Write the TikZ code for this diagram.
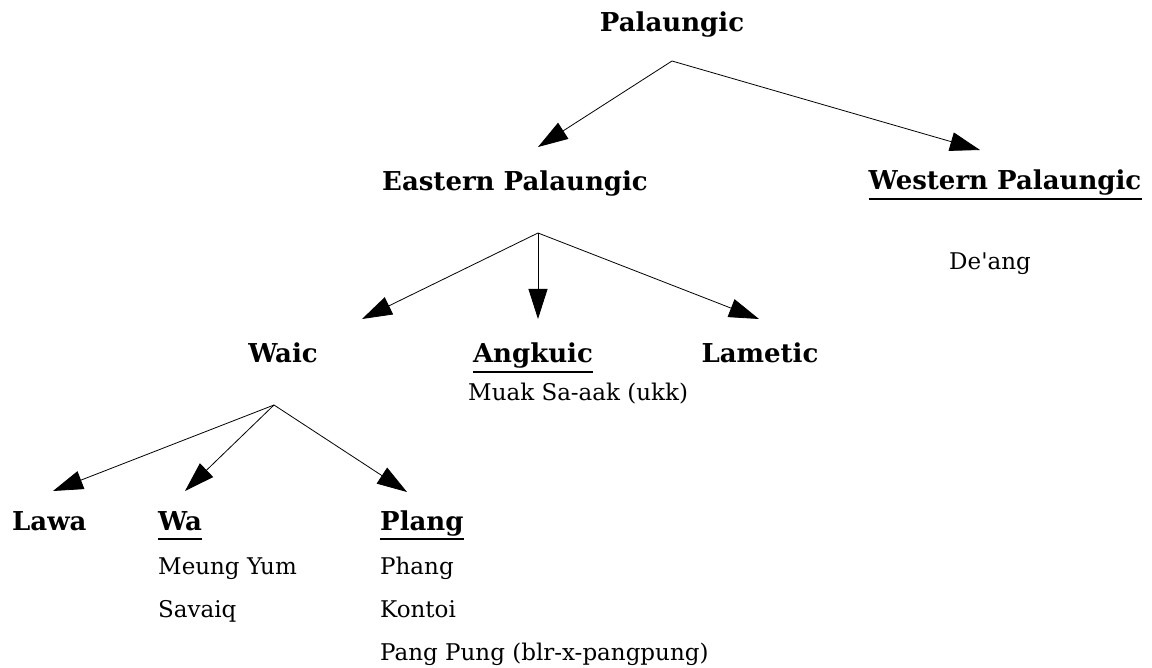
\documentclass[tikz,border=0pt]{standalone}
\usepackage{fontspec}
\setmainfont{DejaVu Serif}
\usetikzlibrary{arrows.meta}

\tikzset{
  grp/.style={inner sep=0pt, font=\fontsize{26}{30}\selectfont\bfseries},
  lang/.style={inner sep=0pt, anchor=base west, font=\fontsize{23}{27}\selectfont},
  arr/.style={line width=0.8pt, -{Triangle[length=30pt,width=19pt]}},
  uline/.style={line width=2.4pt}
}

\begin{document}
\begin{tikzpicture}[x=1pt,y=-1pt]
  \useasboundingbox (0,0) rectangle (1152,668);

  %%%%% GROUPS %%%%%
  \node[grp, anchor=base] (pal) at (672,32) {Palaungic};
  \node[grp, anchor=base] (east) at (515,191) {Eastern Palaungic};
  \node[grp, anchor=base] (west) at (1005,190) {Western Palaungic};
  \node[grp, anchor=base] (waic) at (283,363) {Waic};
  \node[grp, anchor=base] (ang) at (533,363) {Angkuic};
  \node[grp, anchor=base] (lam) at (760,363) {Lametic};
  \node[grp, anchor=base west] (lawa) at (12,530) {Lawa};
  \node[grp, anchor=base west] (wa) at (158,530) {Wa};
  \node[grp, anchor=base west] (plang) at (380,530) {Plang};

  %%%%% LANGUAGES %%%%%
  \node[lang, anchor=base] (deang) at (990,270) {De\textquotesingle ang};
  \node[lang] (muak) at (468,400) {Muak Sa-aak (ukk)};
  \node[lang] (meung) at (158,574) {Meung Yum};
  \node[lang] (savaiq) at (158,617) {Savaiq};
  \node[lang] (phang) at (380,574) {Phang};
  \node[lang] (kontoi) at (380,617) {Kontoi};
  \node[lang] (pang) at (380,660) {Pang Pung (blr-x-pangpung)};

  %%%%% UNDERLINES %%%%%
  \foreach \n in {west,ang,wa,plang}
    \draw[uline] ([yshift=-9pt]\n.base west) -- ([yshift=-9pt]\n.base east);

  %%%%% JUNCTIONS AND ENDS %%%%%
  \coordinate (pal-j) at (672,61);
  \coordinate (east-j) at (538,233);
  \coordinate (waic-j) at (274,405);
  \coordinate (east-t) at (538,147);
  \coordinate (west-t) at (980,150);
  \coordinate (waic-t) at (362,319);
  \coordinate (ang-t) at (538,319);
  \coordinate (lam-t) at (759,319);
  \coordinate (lawa-t) at (53,491);
  \coordinate (wa-t) at (185,491);
  \coordinate (plang-t) at (407,492);

  \draw[arr] (pal-j) -- (east-t);
  \draw[arr] (pal-j) -- (west-t);
  \foreach \t in {waic-t,ang-t,lam-t}
    \draw[arr] (east-j) -- (\t);
  \foreach \t in {lawa-t,wa-t,plang-t}
    \draw[arr] (waic-j) -- (\t);
\end{tikzpicture}
\end{document}
